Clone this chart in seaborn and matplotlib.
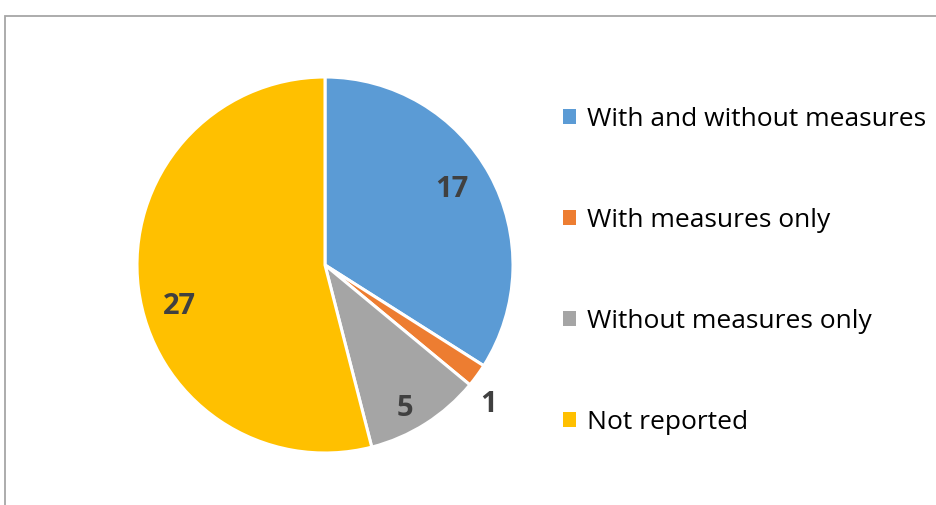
import matplotlib
matplotlib.use("Agg")
import matplotlib.pyplot as plt
from matplotlib.patches import Patch, Rectangle
import numpy as np
import seaborn as sns

categories = ["With and without measures", "With measures only",
              "Without measures only", "Not reported"]
counts = [17, 1, 5, 27]
colors = ["#5B9BD5", "#ED7D31", "#A5A5A5", "#FFC000"]

# baseline placement of each value label (fraction of radius, degree offset from wedge middle)
label_radius = [0.764, 1.17, 0.909, 0.817]
label_shift = [-0.5, -6.0, -4.5, 11.4]

sns.set_theme(style="white")
plt.rcParams["font.family"] = ["Open Sans", "DejaVu Sans"]

W, H = 936, 505
fig = plt.figure(figsize=(W / 100, H / 100), dpi=100)

cx, cy, r = 325, 265, 188
ax = fig.add_axes([(cx - r) / W, (H - cy - r) / H, 2 * r / W, 2 * r / H])
wedges, _ = ax.pie(counts, colors=colors, startangle=90, counterclock=False,
                   wedgeprops=dict(edgecolor="white", linewidth=2.2))
ax.set_xlim(-1, 1)
ax.set_ylim(-1, 1)
ax.axis("off")

for w, v, rf, sh in zip(wedges, counts, label_radius, label_shift):
    ang = np.deg2rad((w.theta1 + w.theta2) / 2 + sh)
    ax.text(rf * np.cos(ang), rf * np.sin(ang), str(v), ha="center", va="baseline",
            fontsize=21, fontweight="bold", color="#404040")

# chart border
fig.patches.append(Rectangle((4.5 / W, -0.5), 2.0, 1 - 15.5 / H + 0.5,
                             transform=fig.transFigure, fill=False,
                             edgecolor="#A6A6A6", linewidth=1.3))

handles = [Patch(facecolor=c, edgecolor="none") for c in colors]
fig.legend(handles, categories, loc="upper left",
           bbox_to_anchor=(552 / W, 1 - 96 / H), frameon=False,
           fontsize=19, handlelength=0.5, handleheight=0.5,
           handletextpad=0.42, labelspacing=2.88, borderaxespad=0,
           labelcolor="#000000")

fig.savefig("out.png", dpi=100)
